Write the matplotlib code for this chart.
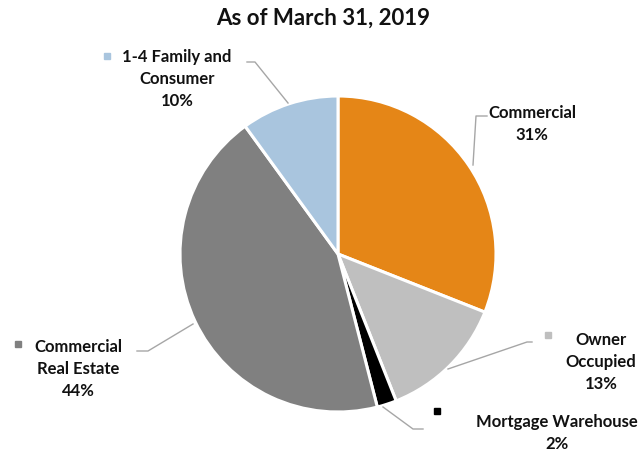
import matplotlib
matplotlib.use("Agg")
import matplotlib.pyplot as plt

categories = ["Commercial", "Owner Occupied", "Mortgage Warehouse",
              "Commercial Real Estate", "1-4 Family and Consumer"]
shares = [31, 13, 2, 44, 10]
colors = ["#E58617", "#BFBFBF", "#000000", "#808080", "#A9C5DE"]
title = "As of March 31, 2019"

W, H = 640, 456
plt.rcParams["font.family"] = ["Lato", "DejaVu Sans"]

fig = plt.figure(figsize=(W / 100, H / 100), dpi=100)
ax = fig.add_axes([0, 0, 1, 1])

cx, cy, r = 338, 255, 158
ax.pie(shares, colors=colors, startangle=90, counterclock=False,
       center=(cx, H - cy), radius=r,
       wedgeprops=dict(edgecolor="white", linewidth=2.2))
ax.set_xlim(0, W)
ax.set_ylim(0, H)
ax.set_aspect("equal")
ax.axis("off")

def px(x, y):
    return x, H - y

# title
ax.text(*px(323, 18), title, ha="center", va="center",
        fontsize=16, fontweight="bold", color="#111111")

# label text: (lines, centre x, first line y, marker position)
labels = [
    ([categories[0], f"{shares[0]}%"], 532, 113, None),
    (["Owner", "Occupied", f"{shares[1]}%"], 601, 340, (548, 336)),
    (["Mortgage Warehouse", f"{shares[2]}%"], 557, 422, (437, 412)),
    (["Commercial", "Real Estate", f"{shares[3]}%"], 78, 347, (18, 345)),
    (["1-4 Family and", "Consumer", f"{shares[4]}%"], 177, 57, (107, 57)),
]
marker_colors = [None, colors[1], colors[2], colors[3], colors[4]]
step = 22
for (lines, x, y0, mk), mc in zip(labels, marker_colors):
    for i, line in enumerate(lines):
        ax.text(*px(x, y0 + i * step), line, ha="center", va="center",
                fontsize=12, fontweight="bold", color="#111111")
    if mk is not None:
        ax.plot(*px(*mk), marker="s", markersize=4.5, color=mc, linestyle="none")

# leader lines
leaders = [
    [(487, 117), (476, 117), (473, 166)],
    [(532, 343), (527, 343), (448, 370)],
    [(383, 408), (413, 430), (423, 430)],
    [(137, 352), (148, 352), (193, 325)],
    [(247, 63), (255, 63), (288, 104)],
]
for pts in leaders:
    xs = [p[0] for p in pts]
    ys = [H - p[1] for p in pts]
    ax.plot(xs, ys, color="#A6A6A6", linewidth=1)

fig.savefig("out.png", dpi=100)
